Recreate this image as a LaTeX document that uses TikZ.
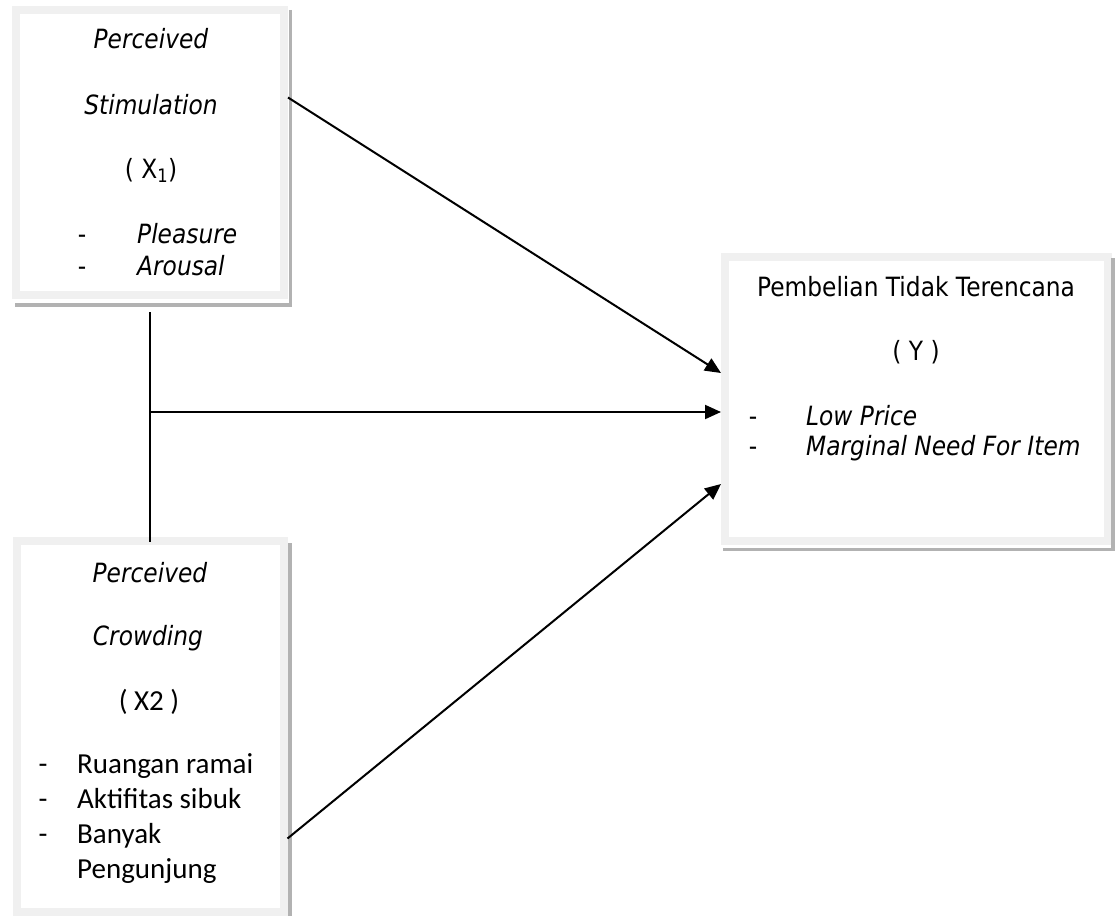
\documentclass[tikz,border=0pt]{standalone}
\usepackage{fontspec}
\setmainfont{DejaVu Sans}[FakeStretch=0.88]
\newfontfamily\calibri{Carlito}
\usetikzlibrary{arrows.meta}

\begin{document}
\begin{tikzpicture}[x=1pt,y=-1pt]
    \tikzstyle{box}=[draw=black!6, line width=8pt, fill=white, inner sep=0pt]
    \tikzstyle{shade}=[black!30, line width=3.5pt]
    \tikzstyle{txt}=[anchor=base, inner sep=0pt, font=\fontsize{26.5}{30}\selectfont]
    \tikzstyle{ctxt}=[txt, font=\calibri\fontsize{29}{34}\selectfont]
    \tikzstyle{wire}=[line width=2pt]
    \tikzstyle{link}=[wire, -{Triangle[length=16pt,width=14pt]}]

    \useasboundingbox (0,0) rectangle (1118,915);

    \node[box, minimum width=268pt, minimum height=285pt] (x1) at (150,152.5) {};
    \node[box, minimum width=267pt, minimum height=371pt] (x2) at (150,726.5) {};
    \node[box, minimum width=383pt, minimum height=284pt] (y) at (916.5,399) {};

    \draw[shade] ([shift={(2.5pt,-4pt)}]x1.north east) -- ([shift={(2.5pt,-6pt)}]x1.south east) -- ([shift={(3pt,-6pt)}]x1.south west);
    \draw[shade] ([shift={(2.5pt,-6pt)}]x2.north east) -- ([shift={(2.5pt,0pt)}]x2.south east);
    \draw[shade] ([shift={(1pt,-5pt)}]y.north east) -- ([shift={(1pt,-4.5pt)}]y.south east) -- ([shift={(2pt,-4.5pt)}]y.south west);

    \node[txt] (x1a) at (151,49) {\textit{Perceived}};
    \node[txt] (x1b) at (151,115) {\textit{Stimulation}};
    \node[txt] (x1c) at (151,178) {( X\textsubscript{1})};
    \node[txt] (x1d) at (82,243) {-};
    \node[txt, anchor=base west] (x1e) at (137,243) {\textit{Pleasure}};
    \node[txt] (x1f) at (82,275) {-};
    \node[txt, anchor=base west] (x1g) at (137,275) {\textit{Arousal}};

    \node[txt] (x2a) at (150,582) {\textit{Perceived}};
    \node[txt] (x2b) at (148,645) {\textit{Crowding}};
    \node[ctxt] (x2c) at (149,710) {( X2 )};
    \node[ctxt] (x2d) at (43,773) {-};
    \node[ctxt, anchor=base west] (x2e) at (77,773) {Ruangan ramai};
    \node[ctxt] (x2f) at (43,808) {-};
    \node[ctxt, anchor=base west] (x2g) at (77,808) {Aktifitas sibuk};
    \node[ctxt] (x2h) at (43,843) {-};
    \node[ctxt, anchor=base west] (x2i) at (77,843) {Banyak};
    \node[ctxt, anchor=base west] (x2j) at (77,878) {Pengunjung};

    \node[txt] (ya) at (916,296) {Pembelian Tidak Terencana};
    \node[txt] (yb) at (916,360) {( Y )};
    \node[txt] (yc) at (753,425) {-};
    \node[txt, anchor=base west] (yd) at (806,425) {\textit{Low Price}};
    \node[txt] (ye) at (753,455) {-};
    \node[txt, anchor=base west] (yf) at (806,455) {\textit{Marginal Need For Item}};

    \coordinate (split) at (150,412);
    \draw[wire] ([yshift=-13pt]x1.south) -- ([yshift=-5pt]x2.north);
    \draw[link] (split) -- (split -| y.west);
    \draw[link] ([yshift=55pt]x1.east) -- ([yshift=26pt]y.west);
    \draw[link] ([yshift=-112pt]x2.east) -- ([yshift=-85pt]y.west);
\end{tikzpicture}
\end{document}
